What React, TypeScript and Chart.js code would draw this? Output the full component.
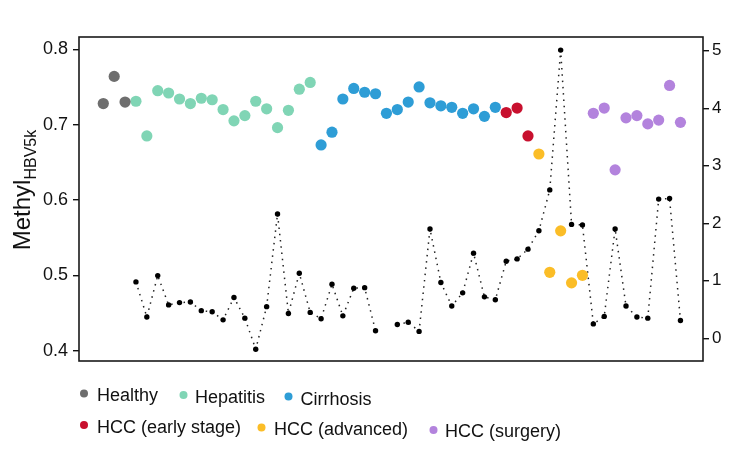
import React, { useEffect, useRef } from 'react';
import { Chart, registerables } from 'chart.js';

Chart.register(...registerables);

// ---- data ----
const seriesNames = ['Healthy', 'Hepatitis', 'Cirrhosis', 'HCC (early stage)', 'HCC (advanced)', 'HCC (surgery)'];
const healthy = [0.728, 0.764, 0.730];
const hepatitis = [0.731, 0.685, 0.745, 0.742, 0.734, 0.728, 0.735, 0.733, 0.720, 0.705, 0.712, 0.731, 0.721, 0.696, 0.719, 0.747, 0.756];
const cirrhosis = [0.673, 0.690, 0.734, 0.748, 0.743, 0.741, 0.715, 0.720, 0.730, 0.750, 0.729, 0.725, 0.723, 0.715, 0.721, 0.711, 0.723];
const hccEarly = [0.716, 0.722, 0.685];
const hccAdvanced = [0.661, 0.504, 0.559, 0.490, 0.500];
const hccSurgery = [0.715, 0.722, 0.640, 0.709, 0.712, 0.701, 0.706, 0.752, 0.703];
// right-axis series, one value per sample (null = no value)
const rightSeries: (number | null)[] = [
  null, null, null,
  0.98, 0.37, 1.09, 0.58, 0.62, 0.63, 0.48, 0.46, 0.32, 0.71, 0.35, -0.19, 0.55, 2.16, 0.43, 1.13, 0.45,
  0.34, 0.94, 0.39, 0.87, 0.88, 0.13, null, 0.24, 0.28, 0.12, 1.90, 0.97, 0.56, 0.79, 1.48, 0.72, 0.67,
  1.34, 1.38, 1.55,
  1.87, 2.58, 5.01, 1.98, 1.97,
  0.25, 0.38, 1.90, 0.56, 0.37, 0.35, 2.42, 2.43, 0.31,
];
const leftTicks = [0.4, 0.5, 0.6, 0.7, 0.8];
const rightTicks = [0, 1, 2, 3, 4, 5];

// ---- styles ----
const groupColors = ['#6e6e6e', '#80d5b5', '#2e9dd6', '#c8102e', '#fbbd27', '#b383dd'];
const FONT = "'Liberation Sans', Arial, sans-serif";
const legendLayout = [
  { dx: 84, dy: 393.5, tx: 97, ty: 401 },
  { dx: 183.5, dy: 395, tx: 195, ty: 403 },
  { dx: 288.5, dy: 396.5, tx: 300.5, ty: 404.5 },
  { dx: 84, dy: 425, tx: 97, ty: 433 },
  { dx: 261.5, dy: 427.5, tx: 274, ty: 435 },
  { dx: 433.5, dy: 430, tx: 445, ty: 437 },
];

export default function App() {
  const ref = useRef<HTMLCanvasElement | null>(null);

  useEffect(() => {
    if (!ref.current) return;
    const groups = [healthy, hepatitis, cirrhosis, hccEarly, hccAdvanced, hccSurgery];
    let idx = 0;
    const scatterSets = groups.map((vals, g) => {
      const data = vals.map((v) => ({ x: idx++, y: v }));
      return {
        type: 'scatter' as const,
        label: seriesNames[g],
        data,
        yAxisID: 'y',
        backgroundColor: groupColors[g],
        borderColor: groupColors[g],
        borderWidth: 0,
        pointRadius: 5.6,
      };
    });
    const lineSet = {
      type: 'line' as const,
      label: 'right',
      data: rightSeries.map((v, i) => ({ x: i, y: v })),
      yAxisID: 'y2',
      borderColor: '#222',
      backgroundColor: '#000',
      borderWidth: 1.5,
      borderDash: [1.5, 4.8],
      pointRadius: 2.7,
      pointBorderWidth: 0,
      spanGaps: false,
      tension: 0,
    };

    const frame = {
      id: 'frame',
      afterDraw(chart: any) {
        const { ctx, chartArea: a } = chart;
        ctx.save();
        ctx.strokeStyle = '#1a1a1a';
        ctx.lineWidth = 1.6;
        ctx.strokeRect(a.left, a.top, a.right - a.left, a.bottom - a.top);

        // y-axis title with subscript
        ctx.fillStyle = '#111';
        ctx.translate(30, 190);
        ctx.rotate(-Math.PI / 2);
        ctx.font = `24px ${FONT}`;
        const main = 'Methyl';
        const wMain = ctx.measureText(main).width;
        ctx.font = `16px ${FONT}`;
        const sub = 'HBV5k';
        const wSub = ctx.measureText(sub).width;
        const start = -(wMain + wSub) / 2;
        ctx.textBaseline = 'alphabetic';
        ctx.textAlign = 'left';
        ctx.font = `24px ${FONT}`;
        ctx.fillText(main, start, 0);
        ctx.font = `16px ${FONT}`;
        ctx.fillText(sub, start + wMain, 6);
        ctx.restore();

        // legend
        ctx.save();
        ctx.font = `18px ${FONT}`;
        ctx.textBaseline = 'alphabetic';
        ctx.textAlign = 'left';
        seriesNames.forEach((name, i) => {
          const L = legendLayout[i];
          ctx.fillStyle = groupColors[i];
          ctx.beginPath();
          ctx.arc(L.dx, L.dy, 4, 0, Math.PI * 2);
          ctx.fill();
          ctx.fillStyle = '#111';
          ctx.fillText(name, L.tx, L.ty);
        });
        ctx.restore();
      },
    };

    const chart = new Chart(ref.current, {
      data: { datasets: [...scatterSets, lineSet] as any },
      options: {
        animation: false,
        responsive: false,
        layout: { padding: { top: 37, bottom: 89, left: 0, right: 0 } },
        plugins: { legend: { display: false }, tooltip: { enabled: false } },
        scales: {
          x: { type: 'linear', min: -2.23, max: 55.07, display: false },
          y: {
            type: 'linear',
            position: 'left',
            min: 0.3863,
            max: 0.8163,
            afterBuildTicks: (s: any) => { s.ticks = leftTicks.map((v) => ({ value: v })); },
            afterFit: (s: any) => { s.width = 79; },
            ticks: {
              callback: (v: any) => Number(v).toFixed(1),
              font: { size: 18, family: FONT },
              color: '#111',
              padding: 5,
            },
            grid: { drawOnChartArea: false, drawTicks: true, tickLength: 6, color: '#111', lineWidth: 1.4 },
            border: { display: false },
          },
          y2: {
            type: 'linear',
            position: 'right',
            min: -0.395,
            max: 5.238,
            afterBuildTicks: (s: any) => { s.ticks = rightTicks.map((v) => ({ value: v })); },
            afterFit: (s: any) => { s.width = 46; },
            ticks: {
              callback: (v: any) => String(Math.round(Number(v))),
              font: { size: 17, family: FONT },
              color: '#111',
              padding: 3,
            },
            grid: { drawOnChartArea: false, drawTicks: true, tickLength: 6, color: '#111', lineWidth: 1.4 },
            border: { display: false },
          },
        },
      },
      plugins: [frame],
    });
    return () => chart.destroy();
  }, []);

  return (
    <div style={{ position: 'absolute', left: 0, top: 0, width: 749, height: 450 }}>
      <canvas ref={ref} width={749} height={450} />
    </div>
  );
}
